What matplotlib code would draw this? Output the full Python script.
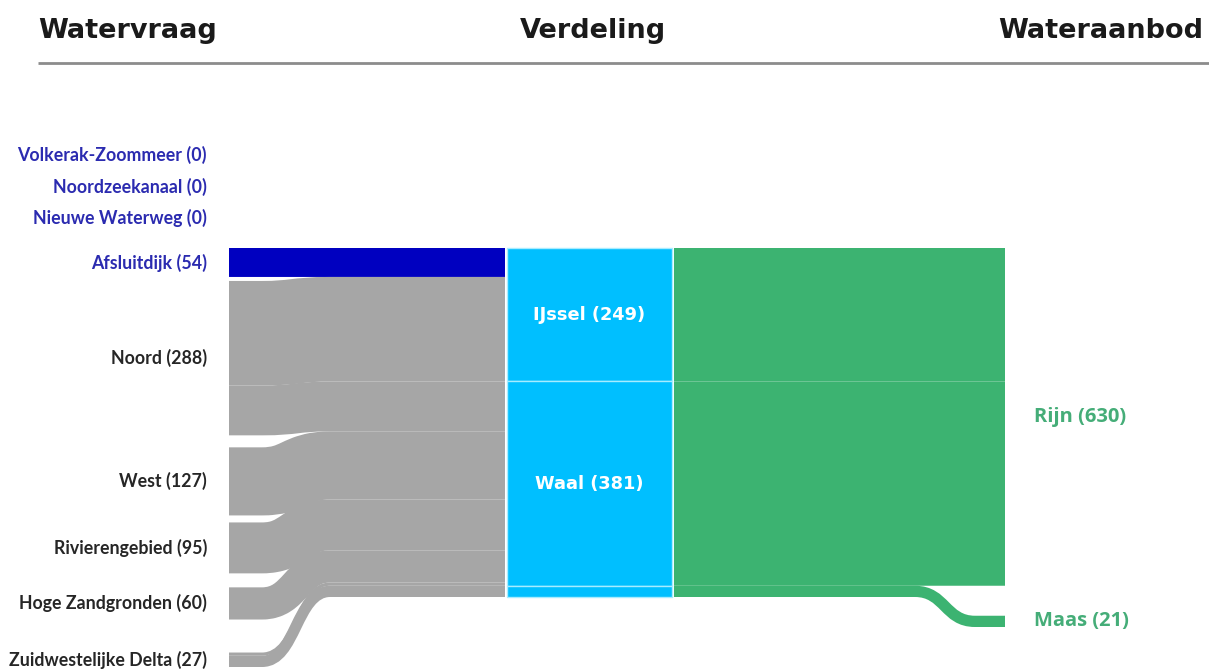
import matplotlib.pyplot as plt
from matplotlib.path import Path
from matplotlib.patches import PathPatch, Rectangle

# data
demand_names = ["Volkerak-Zoommeer", "Noordzeekanaal", "Nieuwe Waterweg", "Afsluitdijk",
                "Noord", "West", "Rivierengebied", "Hoge Zandgronden", "Zuidwestelijke Delta"]
demand_values = [0, 0, 0, 54, 288, 127, 95, 60, 27]

river_names = ["IJssel", "Waal", "Maas-door"]
river_values = [249, 381, 21]
river_labels = ["IJssel (249)", "Waal (381)", ""]

supply_names = ["Rijn", "Maas"]
supply_values = [630, 21]

link_src = ["Afsluitdijk", "Noord", "Noord", "West", "Rivierengebied",
            "Hoge Zandgronden", "Zuidwestelijke Delta", "Zuidwestelijke Delta"]
link_dst = ["IJssel", "IJssel", "Waal", "Waal", "Waal", "Waal", "Waal", "Maas-door"]
link_val = [54, 195, 93, 127, 95, 60, 6, 21]

out_src = ["IJssel", "Waal", "Maas-door"]
out_dst = ["Rijn", "Rijn", "Maas"]
out_val = [249, 381, 21]

# layout (pixels)
W, H, DPI = 1209, 671, 100
top, bottom = 248, 597
k = (bottom - top) / sum(river_values)
demand_start = 155
demand_gaps = [0, 31.5, 31.5, 30, 4, 12, 7, 14, 33]
supply_gaps = [0, 30]
x_left0, x_left1 = 229, 505
x_mid0, x_mid1 = 507, 672
x_right0, x_right1 = 674, 1005

GRAY = "#a6a6a6"
DARKBLUE = "#0000c0"
SKY = "#00bfff"
GREEN = "#3cb371"
LABEL_BLUE = "#2b2bb0"
LABEL_GREEN = "#45ad78"

fig = plt.figure(figsize=(W / DPI, H / DPI), dpi=DPI)
ax = fig.add_axes([0, 0, 1, 1])
ax.set_xlim(0, W)
ax.set_ylim(H, 0)
ax.axis("off")


def stack(names, values, start, gaps):
    pos = {}
    y = start
    for n, v, g in zip(names, values, gaps):
        y += g
        pos[n] = (y, y + v * k)
        y += v * k
    return pos


dpos = stack(demand_names, demand_values, demand_start, demand_gaps)
rpos = stack(river_names, river_values, top, [0] * len(river_names))
spos = stack(supply_names, supply_values, top, supply_gaps)


def ribbon(x0, x1, ya, yb, h, c0, c1, color):
    cm = (c0 + c1) / 2
    verts = [(x0, ya), (c0, ya), (cm, ya), (cm, yb), (c1, yb), (x1, yb)]
    codes = [Path.MOVETO, Path.LINETO, Path.CURVE4, Path.CURVE4, Path.CURVE4, Path.LINETO]
    ax.add_patch(PathPatch(Path(verts, codes), fill=False, edgecolor=color,
                           lw=h * 72 / DPI, capstyle="butt", joinstyle="round"))


def draw_links(srcs, dsts, vals, spos_, dpos_, xa, xb, c0, c1, colfn):
    so = {n: p[0] for n, p in spos_.items()}
    do = {n: p[0] for n, p in dpos_.items()}
    for s, d, v in zip(srcs, dsts, vals):
        h = v * k
        ya = so[s] + h / 2
        yb = do[d] + h / 2
        so[s] += h
        do[d] += h
        ribbon(xa, xb, ya, yb, h, c0, c1, colfn(s, d))


draw_links(link_src, link_dst, link_val, dpos, rpos, x_left0, x_left1, 262, 330,
           lambda s, d: DARKBLUE if s == "Afsluitdijk" else GRAY)
draw_links(out_src, out_dst, out_val, rpos, spos, x_right0, x_right1, 915, 975,
           lambda s, d: GREEN)

for n, lab in zip(river_names, river_labels):
    y0, y1 = rpos[n]
    ax.add_patch(Rectangle((x_mid0, y0), x_mid1 - x_mid0, y1 - y0,
                           facecolor=SKY, edgecolor="#a8ecff", lw=1))
    if lab:
        ax.text((x_mid0 + x_mid1) / 2, (y0 + y1) / 2, lab, color="white",
                fontsize=12.8, fontweight="bold", ha="center", va="center")

for n, v in zip(demand_names, demand_values):
    y0, y1 = dpos[n]
    col = LABEL_BLUE if n in demand_names[:4] else "#262626"
    ax.text(207, (y0 + y1) / 2, f"{n} ({v})", color=col, fontsize=12.8,
            family=["Lato", "DejaVu Sans"], fontweight="bold", ha="right", va="center")

for n, v in zip(supply_names, supply_values):
    y0, y1 = spos[n]
    ax.text(1034, (y0 + y1) / 2, f"{n} ({v})", color=LABEL_GREEN, fontsize=14.5,
            family=["Open Sans", "DejaVu Sans"], fontweight="bold", ha="left", va="center")

# headers
hdr = dict(fontsize=19.5, fontweight="bold", color="#1a1a1a", va="center")
ax.text(38, 31, "Watervraag", ha="left", **hdr)
ax.text(593, 31, "Verdeling", ha="center", **hdr)
ax.text(1203, 31, "Wateraanbod", ha="right", **hdr)
ax.plot([38, W], [63, 63], color="#8c8c8c", lw=2, solid_capstyle="butt")

fig.savefig("out.png", dpi=DPI)
